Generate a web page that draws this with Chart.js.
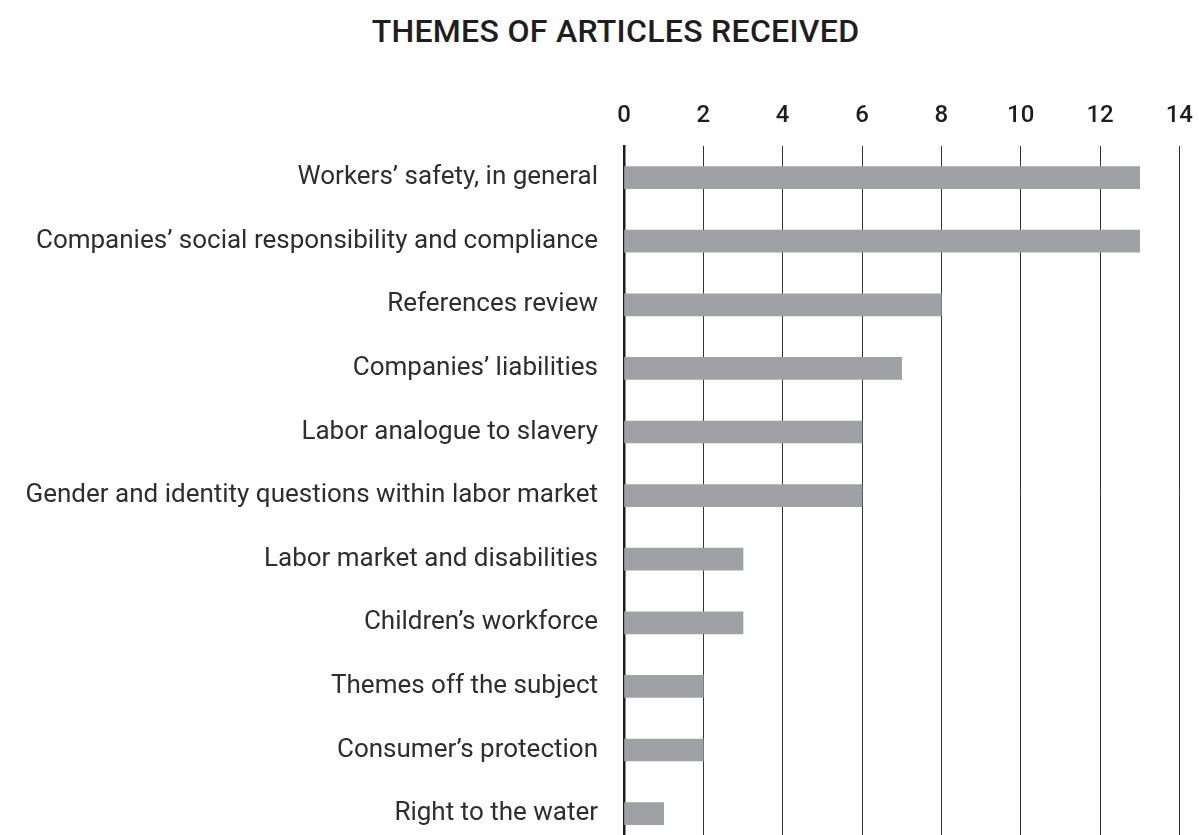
<!DOCTYPE html>
<html>
<head>
<meta charset="utf-8">
<script src="https://cdn.jsdelivr.net/npm/chart.js@4"></script>
<style>
  body { margin: 0; background: #fff; overflow: hidden; }
  #title {
    position: absolute; top: 12px; left: 16px; width: 1199px;
    text-align: center; font-family: Roboto, sans-serif; font-weight: 500;
    font-size: 32px; color: #1e1e1e; letter-spacing: 0.3px;
  }
  #wrap { position: absolute; top: 0; left: 0; width: 1208px; height: 879px; }
</style>
</head>
<body>
<div id="title">THEMES OF ARTICLES RECEIVED</div>
<div id="wrap"><canvas id="barChart"></canvas></div>
<script>
// themes and number of articles
var themes = [
  "Workers’ safety, in general",
  "Companies’ social responsibility and compliance",
  "References review",
  "Companies’ liabilities",
  "Labor analogue to slavery",
  "Gender and identity questions within labor market",
  "Labor market and disabilities",
  "Children’s workforce",
  "Themes off the subject",
  "Consumer’s protection",
  "Right to the water"
];
var articles = [13, 13, 8, 7, 6, 6, 3, 3, 2, 2, 1];
var xTicks = [0, 2, 4, 6, 8, 10, 12, 14];

new Chart("barChart", {
  type: "bar",
  data: {
    labels: themes,
    datasets: [{
      label: "Articles",
      backgroundColor: "#a0a1a4",
      data: articles,
      barThickness: 22
    }]
  },
  options: {
    indexAxis: "y",
    responsive: true,
    maintainAspectRatio: false,
    animation: false,
    layout: { padding: { top: 87, right: 8, left: 14 } },
    plugins: {
      legend: { display: false },
      title: { display: false },
      tooltip: { enabled: false }
    },
    scales: {
      x: {
        position: "top",
        min: 0,
        max: 14,
        afterBuildTicks: (axis) => { axis.ticks = xTicks.map(v => ({ value: v })); },
        grid: {
          color: "#333",
          lineWidth: 1,
          drawTicks: false
        },
        border: { display: false },
        ticks: {
          padding: 15,
          color: "#1e1e1e",
          font: { family: "Roboto", size: 24, weight: "500" }
        }
      },
      y: {
        // labels are long, keep the axis wide enough for them
        afterFit: (axis) => { axis.width = 610; },
        grid: { display: false },
        border: { display: true, color: "#1e1e1e", width: 2.5 },
        ticks: {
          padding: 18,
          color: "#2e2e2e",
          font: { family: "Roboto", size: 26 }
        }
      }
    }
  }
});
</script>
</body>
</html>
